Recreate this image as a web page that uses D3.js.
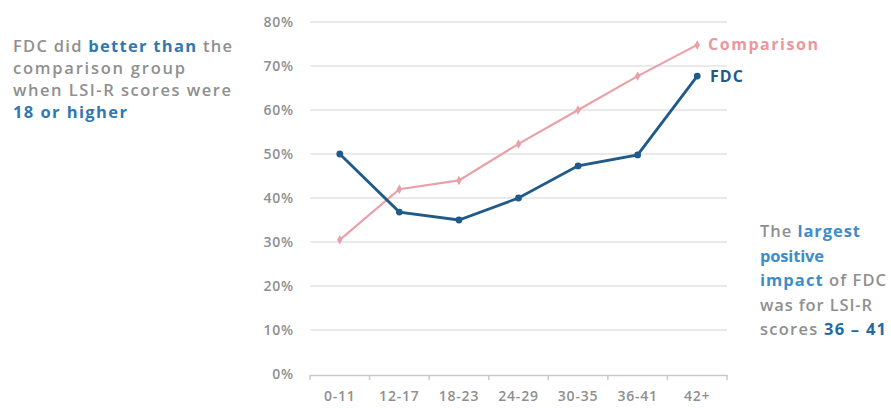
<!DOCTYPE html>
<html><head><meta charset="utf-8">
<script src="https://cdn.jsdelivr.net/npm/d3@7"></script>
<style>body{margin:0;background:#fff;} svg{display:block;}</style>
</head><body>
<svg id="c" width="891" height="408"></svg>
<script>
const categories = ["0-11","12-17","18-23","24-29","30-35","36-41","42+"];
const fdcValues = [50, 36.8, 35, 40, 47.3, 49.8, 67.7];
const comparisonValues = [30.5, 42, 44, 52.3, 60, 67.7, 74.8];
const yTicks = [0,10,20,30,40,50,60,70,80];

const svg = d3.select("#c");
const font = "'Open Sans', 'Noto Sans', sans-serif";
const gray = "#8f8f8f";
const blue = "#1f5a8a";
const pink = "#e9a1a7";
const midBlue = "#2f78b3";
const lightBlue = "#3c8dc9";

const x = d3.scaleBand().domain(categories).range([310, 727]);
const y = d3.scaleLinear().domain([0, 80]).range([374, 22]);

// gridlines
svg.append("g").selectAll("line").data(yTicks.filter(d=>d>0)).join("line")
  .attr("x1", 310).attr("x2", 727)
  .attr("y1", d=>y(d)).attr("y2", d=>y(d))
  .attr("stroke", "#e3e3e3").attr("stroke-width", 1.5);

// y axis labels
const yAxis = d3.axisLeft(y).tickValues(yTicks).tickFormat(d=>d+"%").tickSize(0).tickPadding(0);
const ya = svg.append("g").attr("transform","translate(294,0)").call(yAxis);
ya.select(".domain").remove();
ya.selectAll("text").attr("font-family", font).attr("font-size", 14).attr("font-weight", 600)
  .attr("letter-spacing", 0.8).attr("fill", gray);

// x axis
const xAxis = d3.axisBottom(x).tickSize(0).tickPadding(16);
const xa = svg.append("g").attr("transform","translate(0,375)").call(xAxis);
xa.select(".domain").attr("stroke","#c8c8c8").attr("stroke-width",1.5);
xa.selectAll("text").attr("font-family", font).attr("font-size", 14).attr("font-weight", 600)
  .attr("letter-spacing", 0.8).attr("fill", gray);
// boundary tick marks
const bounds = categories.map(c=>x(c)).concat([x.range()[1]]);
svg.append("g").selectAll("line").data(bounds).join("line")
  .attr("x1", d=>d).attr("x2", d=>d).attr("y1", 375).attr("y2", 380)
  .attr("stroke","#c8c8c8").attr("stroke-width",1.5);

const cx = c => x(c) + x.bandwidth()/2;
const line = d3.line().x((d,i)=>cx(categories[i])).y(d=>y(d));

svg.append("path").datum(comparisonValues).attr("d", line)
  .attr("fill","none").attr("stroke", pink).attr("stroke-width", 2.2);
svg.append("g").selectAll("path").data(comparisonValues).join("path")
  .attr("d", d3.symbol(d3.symbolDiamond, 26))
  .attr("transform",(d,i)=>`translate(${cx(categories[i])},${y(d)})`)
  .attr("fill", pink);

svg.append("path").datum(fdcValues).attr("d", line)
  .attr("fill","none").attr("stroke", blue).attr("stroke-width", 2.8);
svg.append("g").selectAll("circle").data(fdcValues).join("circle")
  .attr("cx",(d,i)=>cx(categories[i])).attr("cy", d=>y(d)).attr("r", 3.4)
  .attr("fill", blue);

function rich(xp, yp, parts, size, len){
  const t = svg.append("text").attr("x", xp).attr("y", yp)
    .attr("font-family", font).attr("font-size", size).attr("font-weight", 600);
  if (len) t.attr("textLength", len).attr("lengthAdjust", "spacing");
  parts.forEach(p=>t.append("tspan").text(p[0]).attr("fill", p[1]).attr("font-weight", p[2]||600));
  return t;
}

// series labels
rich(708, y(comparisonValues[6])+5.5, [["Comparison", "#ea979e", 700]], 16, 110);
rich(710, y(fdcValues[6])+6, [["FDC", blue, 700]], 16, 33);

// left annotation
const ls = 16.5;
rich(13, 52, [["FDC did ", gray], ["better than", midBlue, 700], [" the", gray]], ls, 219);
rich(13, 74, [["comparison group", gray]], ls, 172);
rich(13, 96, [["when LSI-R  scores were", gray]], ls, 218);
rich(13, 118, [["18 or higher", midBlue, 700]], ls, 114);

// right annotation
const rs = 16.5;
rich(760, 237, [["The ", gray], ["largest", lightBlue, 700]], rs, 100);
rich(760, 261.5, [["positive", lightBlue, 700]], rs, 64);
rich(760, 286, [["impact", lightBlue, 700], [" of FDC", gray]], rs, 126);
rich(760, 310.5, [["was for LSI-R", gray]], rs, 112);
rich(760, 335, [["scores ", gray], ["36 \u2013 41", "#1f6aa5", 700]], rs, 126);
</script>
</body></html>
